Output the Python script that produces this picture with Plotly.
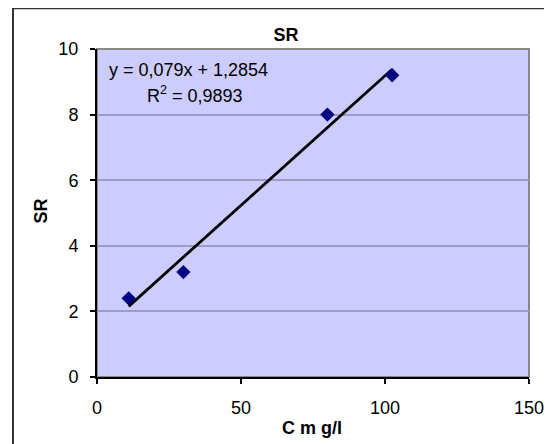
import plotly.graph_objects as go

# data
conc = [11, 30, 80, 102.5]
sr = [2.4, 3.2, 8.0, 9.2]
slope = 0.079
intercept = 1.2854
eq_text = "y = 0,079x + 1,2854"
r2_text = "R<sup>2</sup> = 0,9893"
x_ticks = [0, 50, 100, 150]
y_ticks = [0, 2, 4, 6, 8, 10]

trend_x = [min(conc), max(conc)]
trend_y = [slope * v + intercept for v in trend_x]

FONT = "Liberation Sans, Arial, sans-serif"

# plot area in window pixels: x 97..529, y 49..377 (page has 8px body offset)
PW, PH = 432, 328
def px(xw):
    return (xw - 97) / PW
def py(yw):
    return (377 - yw) / PH

fig = go.Figure()
fig.add_trace(go.Scatter(x=trend_x, y=trend_y, mode="lines",
                         line=dict(color="black", width=2.8), hoverinfo="skip"))
fig.add_trace(go.Scatter(x=conc, y=sr, mode="markers",
                         marker=dict(symbol="diamond", size=11, color="#000080")))

fig.update_layout(
    width=552, height=444,
    margin=dict(l=89, r=31, t=41, b=75),
    paper_bgcolor="white", plot_bgcolor="#CCCCFF",
    showlegend=False,
    font=dict(family=FONT, size=18, color="black"),
    title=dict(text="<b>SR</b>", x=(286 - 8) / 552, xanchor="center",
               y=1 - (35 - 8) / 444, yanchor="middle", font=dict(size=18)),
    xaxis=dict(range=[0, 150], tickvals=x_ticks, showgrid=False, zeroline=False,
               showline=True, linecolor="black", linewidth=2,
               ticks="outside", ticklen=5, tickcolor="black", tickwidth=1.5,
               ticklabelstandoff=8),
    yaxis=dict(range=[0, 10], tickvals=y_ticks, showgrid=True, gridcolor="#9C9CC4",
               gridwidth=1.5, zeroline=False,
               showline=True, linecolor="black", linewidth=2,
               ticks="outside", ticklen=5, tickcolor="black", tickwidth=1.5,
               ticklabelstandoff=8),
    shapes=[
        dict(type="rect", xref="paper", yref="paper", x0=0, x1=1, y0=0, y1=1,
             line=dict(color="#888888", width=2), layer="below"),
        dict(type="rect", xref="paper", yref="paper", x0=px(13), x1=1.3,
             y0=-0.4, y1=py(8.3), line=dict(color="#333333", width=2)),
    ],
    annotations=[
        dict(text=eq_text, xref="paper", yref="paper", x=px(107), y=py(70),
             xanchor="left", yanchor="middle", showarrow=False, font=dict(size=18)),
        dict(text=r2_text, xref="paper", yref="paper", x=px(145), y=py(94),
             xanchor="left", yanchor="middle", showarrow=False, font=dict(size=18)),
        dict(text="<b>C m g/l</b>", xref="paper", yref="paper", x=px(312), y=py(427.5),
             xanchor="center", yanchor="middle", showarrow=False, font=dict(size=18)),
        dict(text="<b>SR</b>", xref="paper", yref="paper", x=px(40), y=py(211.5),
             xanchor="center", yanchor="middle", textangle=-90, showarrow=False,
             font=dict(size=18)),
    ],
)

fig.write_html("out.html")
